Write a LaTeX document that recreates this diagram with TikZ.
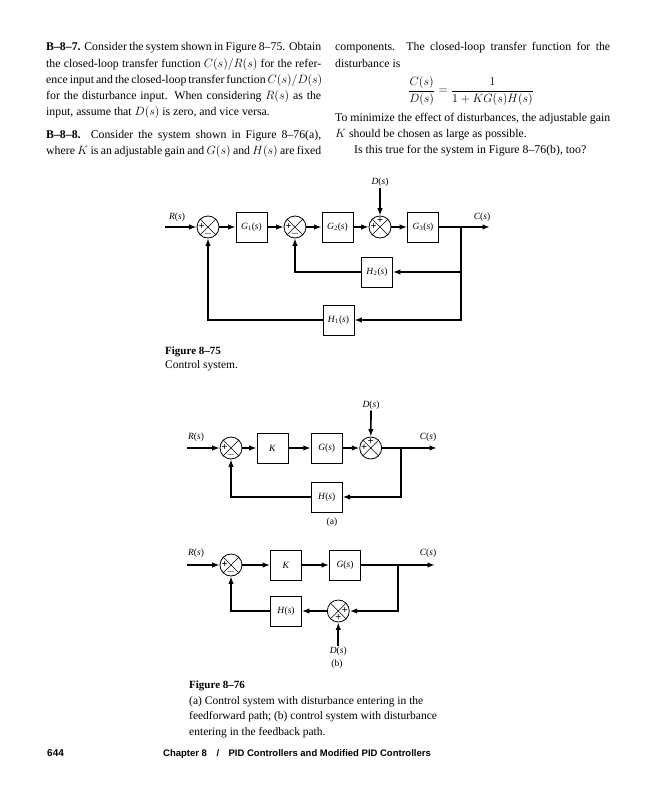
\documentclass[tikz,border=0pt]{standalone}
\usepackage{fontspec}
\setmainfont{Liberation Serif}
\newfontfamily\myfootfont{Liberation Sans}
\usetikzlibrary{arrows.meta,calc}
\newcommand{\mylblfont}{\fontsize{9.5}{11}\selectfont}
\newcommand{\mybodyfont}{\fontsize{11.8}{16}\selectfont}
\newcommand{\mycapfont}{\fontsize{11.5}{15}\selectfont}
\newcommand{\tf}[2]{\textit{#1}\textsubscript{#2}(\textit{s})}
\newcommand{\tfn}[1]{\textit{#1}(\textit{s})}
\tikzset{
  blk/.style={draw, line width=0.8pt, minimum width=31pt, minimum height=30pt, inner sep=0pt, font=\mylblfont},
  sumj/.style={draw, circle, line width=0.8pt, minimum size=22pt, inner sep=0pt},
  sig/.style={line width=1.7pt, -{Latex[length=7.5pt,width=5.5pt]}},
  lbl/.style={font=\mylblfont, inner sep=1pt},
  sgn/.style={font=\fontsize{10.5}{10.5}\selectfont\bfseries, inner sep=0pt},
  txt/.style={anchor=base west, inner sep=0pt, font=\mybodyfont},
  capt/.style={anchor=base west, inner sep=0pt, font=\mycapfont},
  capth/.style={anchor=base west, inner sep=0pt, font=\fontsize{11}{15}\selectfont\bfseries},
}
\newcommand{\sumx}[1]{\draw[line width=0.6pt] (#1.45) -- (#1.225) (#1.135) -- (#1.315);}
\begin{document}
\begin{tikzpicture}[x=1pt,y=-1pt]
\useasboundingbox[fill=white] (0,0) rectangle (653,800);

% ---------- text, left column
\node[txt] (l1) at (46,51) {\makebox[275pt][s]{\textbf{B–8–7.} Consider the system shown in Figure 8–75. Obtain}};
\node[txt] (l2) at (46,67) {\makebox[275pt][s]{the closed-loop transfer function $C(s)/R(s)$ for the refer-}};
\node[txt] (l3) at (46,83) {\makebox[275pt][s]{ence input and the closed-loop transfer function $C(s)/D(s)$}};
\node[txt] (l4) at (46,99) {\makebox[275pt][s]{for the disturbance input. When considering $R(s)$ as the}};
\node[txt] (l5) at (46,115) {input, assume that $D(s)$ is zero, and vice versa.};
\node[txt] (l6) at (46,138) {\makebox[275pt][s]{\textbf{B–8–8.} Consider the system shown in Figure 8–76(a),}};
\node[txt] (l7) at (46,154) {\makebox[275pt][s]{where $K$ is an adjustable gain and $G(s)$ and $H(s)$ are fixed}};

% ---------- text, right column
\node[txt] (r1) at (335,51) {\makebox[275pt][s]{components. The closed-loop transfer function for the}};
\node[txt] (r2) at (335,67) {disturbance is};
\node[inner sep=0pt, font=\mybodyfont] (eq) at (471,91) {$\displaystyle \frac{C(s)}{D(s)} = \frac{1}{1 + KG(s)H(s)}$};
\node[txt] (r3) at (335,121) {\makebox[275pt][s]{To minimize the effect of disturbances, the adjustable gain}};
\node[txt] (r4) at (335,137) {$K$ should be chosen as large as possible.};
\node[txt] (r5) at (354,153) {Is this true for the system in Figure 8–76(b), too?};

% ---------- Figure 8-75
\coordinate (rin) at (165,227);
\node[sumj] (s1) at (208,227) {};
\node[blk] (g1) at (251.5,227) {\tf{G}{1}};
\node[sumj] (s2) at (295,227) {};
\node[blk] (g2) at (337.5,227) {\tf{G}{2}};
\node[sumj] (s3) at (380,227) {};
\node[blk] (g3) at (423,227) {\tf{G}{3}};
\coordinate (b1) at (461,227);
\coordinate (cout) at (490,227);
\node[blk] (h2) at (377,272) {\tf{H}{2}};
\node[blk] (h1) at (338.5,320) {\tf{H}{1}};
\node[lbl] (rl) at (177,217) {\tfn{R}};
\node[lbl] (cl) at (482,217) {\tfn{C}};
\node[lbl] (dl) at (380,182) {\tfn{D}};
\sumx{s1}\sumx{s2}\sumx{s3}
\node[sgn] at ($(s1)+(-6.5,0)$) {+};
\node[sgn] at ($(s1)+(0,6.5)$) {$-$};
\node[sgn] at ($(s2)+(-6.5,0)$) {+};
\node[sgn] at ($(s2)+(0,6.5)$) {$-$};
\node[sgn] at ($(s3)+(-6.5,0)$) {+};
\node[sgn] at ($(s3)+(0,-6.5)$) {+};
\draw[sig] (rin) -- (s1);
\draw[sig] (s1) -- (g1);
\draw[sig] (g1) -- (s2);
\draw[sig] (s2) -- (g2);
\draw[sig] (g2) -- (s3);
\draw[sig] (s3) -- (g3);
\draw[sig] (g3) -- (cout);
\draw[sig] (dl) -- (s3);
\draw[sig] (b1) |- (h2);
\draw[sig] (h2) -| (s2);
\draw[sig] (b1) |- (h1);
\draw[sig] (h1) -| (s1);
\node[capth] (c75a) at (165,354) {Figure 8–75};
\node[capt] (c75b) at (165,368) {Control system.};

% ---------- Figure 8-76 (a)
\coordinate (rina) at (187,448);
\node[sumj] (s1a) at (231,448) {};
\node[blk] (ka) at (272.5,448) {\textit{K}};
\node[blk] (ga) at (326.7,448) {\tfn{G}};
\node[sumj] (s2a) at (370.7,448) {};
\coordinate (ba) at (401,448);
\coordinate (couta) at (437,448);
\node[blk] (ha) at (326.7,497) {\tfn{H}};
\node[lbl] (rla) at (196,437) {\tfn{R}};
\node[lbl] (cla) at (428,437) {\tfn{C}};
\node[lbl] (dla) at (371,405) {\tfn{D}};
\node[lbl] (la) at (332,522) {(a)};
\sumx{s1a}\sumx{s2a}
\node[sgn] at ($(s1a)+(-6.5,0)$) {+};
\node[sgn] at ($(s1a)+(0,6.5)$) {$-$};
\node[sgn] at ($(s2a)+(-6.5,0)$) {+};
\node[sgn] at ($(s2a)+(0,-6.5)$) {+};
\draw[sig] (rina) -- (s1a);
\draw[sig] (s1a) -- (ka);
\draw[sig] (ka) -- (ga);
\draw[sig] (ga) -- (s2a);
\draw[sig] (s2a) -- (couta);
\draw[sig] (dla) -- (s2a);
\draw[sig] (ba) |- (ha);
\draw[sig] (ha) -| (s1a);

% ---------- Figure 8-76 (b)
\coordinate (rinb) at (187,565);
\node[sumj] (s1b) at (231,565) {};
\node[blk] (kb) at (286,565) {\textit{K}};
\node[blk] (gb) at (345,565) {\tfn{G}};
\coordinate (bb) at (398,565);
\coordinate (coutb) at (435,565);
\node[sumj] (s2b) at (338.3,611) {};
\node[blk] (hb) at (286,611) {\tfn{H}};
\node[lbl] (rlb) at (196,553) {\tfn{R}};
\node[lbl] (clb) at (428,553) {\tfn{C}};
\node[lbl] (dlb) at (338.3,651) {\tfn{D}};
\node[lbl] (lb) at (337,664) {(b)};
\sumx{s1b}\sumx{s2b}
\node[sgn] at ($(s1b)+(-6.5,0)$) {+};
\node[sgn] at ($(s1b)+(0,6.5)$) {$-$};
\node[sgn] at ($(s2b)+(6.5,0)$) {+};
\node[sgn] at ($(s2b)+(0,6.5)$) {+};
\draw[sig] (rinb) -- (s1b);
\draw[sig] (s1b) -- (kb);
\draw[sig] (kb) -- (gb);
\draw[sig] (gb) -- (coutb);
\draw[sig] (bb) |- (s2b);
\draw[sig] (s2b) -- (hb);
\draw[sig] (hb) -| (s1b);
\draw[sig] (dlb) -- (s2b);

\node[capth] (c76a) at (189,688) {Figure 8–76};
\node[capt] (c76b) at (189,704) {(a) Control system with disturbance entering in the};
\node[capt] (c76c) at (189,719) {feedforward path; (b) control system with disturbance};
\node[capt] (c76d) at (189,735) {entering in the feedback path.};

% ---------- footer
\node[anchor=base west, inner sep=0pt, font=\myfootfont\bfseries\fontsize{10}{11}\selectfont] (pg) at (47,756) {644};
\node[anchor=base west, inner sep=0pt, font=\myfootfont\bfseries\fontsize{9.5}{11}\selectfont] (ch) at (163,756) {Chapter 8\quad/\quad PID Controllers and Modified PID Controllers};
\end{tikzpicture}
\end{document}
